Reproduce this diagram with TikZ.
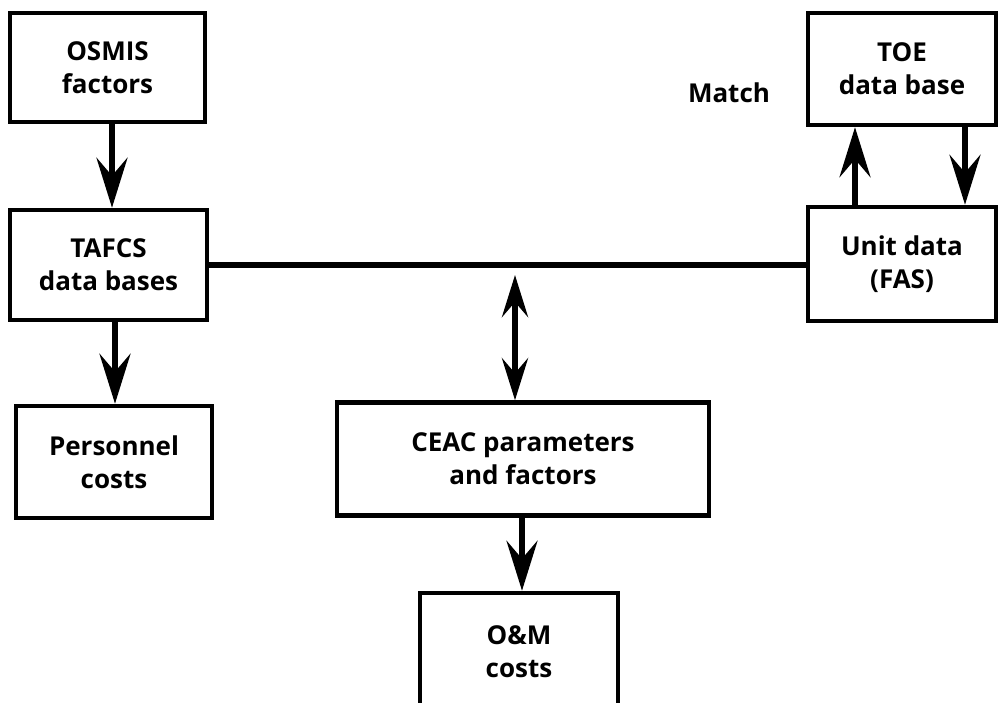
\documentclass[tikz,border=0pt]{standalone}
\usepackage{fontspec}
\setmainfont{Open Sans}
\usetikzlibrary{arrows.meta}
\tikzset{
  barbed/.tip={Stealth[length=50pt,width=31pt,inset=18pt]},
  smallbarbed/.tip={Stealth[length=42pt,width=26pt,inset=15pt]},
}
\begin{document}
\begin{tikzpicture}[x=1pt,y=-1pt,
  box/.style={draw, line width=4.5pt, rectangle, align=center,
    font=\bfseries\fontsize{26}{33}\selectfont, inner sep=0pt},
  lbl/.style={font=\bfseries\fontsize{26}{33}\selectfont, inner sep=0pt},
  flow/.style={line width=6pt, -barbed},
  twoway/.style={line width=6pt, smallbarbed-smallbarbed},
  link/.style={line width=5.5pt},
]
\useasboundingbox (0,0) rectangle (999,703);

% boxes
\node[box, minimum width=195pt, minimum height=109pt] (osmis) at (107.5,67.5) {OSMIS\\factors};
\node[box, minimum width=197pt, minimum height=110pt] (tafcs) at (108.5,265) {TAFCS\\data bases};
\node[box, minimum width=196pt, minimum height=112pt] (pers) at (114,462) {Personnel\\costs};
\node[box, minimum width=372pt, minimum height=113pt] (ceac) at (523,459) {CEAC parameters\\and factors};
\node[box, minimum width=198pt, minimum height=118pt] (om) at (519,652) {O\&M\\costs};
\node[box, minimum width=188pt, minimum height=112pt] (toe) at (902,69) {TOE\\data base};
\node[box, minimum width=188pt, minimum height=114pt] (unit) at (902,264) {Unit data\\(FAS)};

\node[lbl] (match) at (729,93) {Match};

% connectors
\draw[flow] ([xshift=4.5pt]osmis.south) -- ([xshift=3.5pt]tafcs.north);
\draw[flow] ([xshift=6.5pt]tafcs.south) -- ([xshift=1pt]pers.north);
\draw[link] (tafcs.east) -- (tafcs.east -| unit.west);
\coordinate (bus) at (515,275);
\draw[twoway] (bus) -- (bus |- ceac.north);
\draw[flow] ([xshift=-1pt]ceac.south) -- ([xshift=3pt]om.north);
\draw[flow] ([xshift=-47pt]unit.north) -- ([xshift=-47pt]toe.south);
\draw[flow] ([xshift=63pt]toe.south) -- ([xshift=63pt]unit.north);
\end{tikzpicture}
\end{document}
